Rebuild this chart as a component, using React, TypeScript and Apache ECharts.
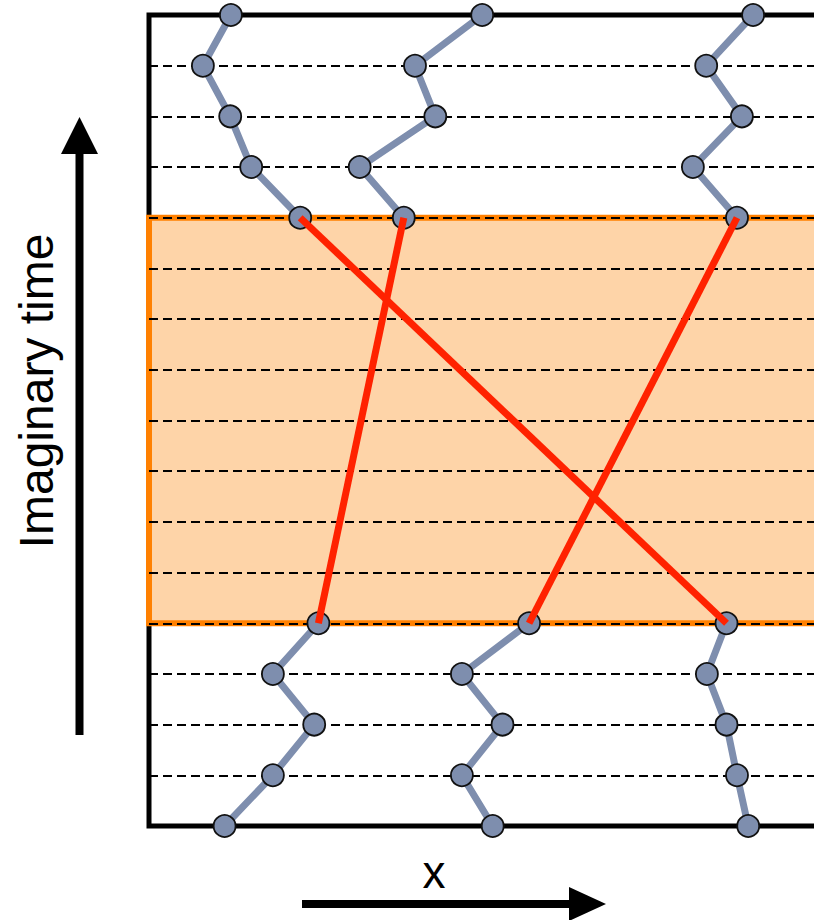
import React, { useEffect, useRef } from "react";
import * as echarts from "echarts";

// Imaginary-time slices (0 = bottom, 16 = top)
const topLevels = [16, 15, 14, 13, 12];
const bottomLevels = [4, 3, 2, 1, 0];
const bandRange = [4, 12];

// Worldline positions above the exchange band (x units 0..100)
const topA = [11.7, 7.7, 11.6, 14.6, 21.6];
const topB = [47.6, 38.0, 40.9, 30.1, 36.4];
const topC = [86.3, 79.6, 84.7, 77.7, 84.0];

// Worldline positions below the exchange band
const bottomL = [24.2, 17.7, 23.6, 17.7, 10.8];
const bottomM = [54.3, 44.7, 50.5, 44.7, 49.1];
const bottomR = [82.5, 79.7, 82.5, 84.0, 85.6];

// Permutation links across the band: [top x, bottom x]
const links = [
  [topA[4], bottomR[0]],
  [topB[4], bottomL[0]],
  [topC[4], bottomM[0]],
];

const BEAD = "#7E8EAE";
const RED = "#FF2200";
const FONT = 'Arial, "Liberation Sans", sans-serif';

function pathSeries(xs: number[], levels: number[]) {
  return {
    type: "line",
    z: 3,
    data: xs.map((x, i) => [x, levels[i]]),
    symbol: "circle",
    symbolSize: 22,
    showSymbol: true,
    showAllSymbol: true,
    itemStyle: { color: BEAD, borderColor: "#111", borderWidth: 1.8 },
    lineStyle: { color: BEAD, width: 7 },
    emphasis: { disabled: true },
    silent: true,
  };
}

export default function App() {
  const ref = useRef<HTMLDivElement>(null);
  useEffect(() => {
    document.body.style.margin = "0";
    const chart = echarts.init(ref.current!, null, { renderer: "svg" });
    const series: any[] = [
      {
        type: "custom",
        z: 1,
        clip: false,
        silent: true,
        data: [bandRange],
        renderItem: (params: any, api: any) => {
          const p1 = api.coord([0, bandRange[1]]);
          const p2 = api.coord([100, bandRange[0]]);
          return {
            type: "rect",
            shape: { x: p1[0], y: p1[1], width: p2[0] - p1[0], height: p2[1] - p1[1] },
            style: { fill: "#FED4A8", stroke: "#FF8000", lineWidth: 6 },
          };
        },
      },
      pathSeries(topA, topLevels),
      pathSeries(topB, topLevels),
      pathSeries(topC, topLevels),
      pathSeries(bottomL, bottomLevels),
      pathSeries(bottomM, bottomLevels),
      pathSeries(bottomR, bottomLevels),
      ...links.map((l) => ({
        type: "line",
        z: 4,
        data: [
          [l[0], bandRange[1]],
          [l[1], bandRange[0]],
        ],
        symbol: "none",
        lineStyle: { color: RED, width: 7 },
        emphasis: { disabled: true },
        silent: true,
      })),
    ];
    chart.setOption({
      animation: false,
      grid: {
        left: 149,
        top: 15,
        width: 700,
        height: 811,
        outerBoundsMode: "none",
        containLabel: false,
        show: true,
        borderColor: "#000",
        borderWidth: 5,
        backgroundColor: "transparent",
        z: 0,
      },
      xAxis: {
        type: "value",
        min: 0,
        max: 100,
        show: false,
      },
      yAxis: {
        type: "value",
        min: 0,
        max: 16,
        interval: 1,
        z: 2,
        axisLine: { show: false },
        axisTick: { show: false },
        axisLabel: { show: false },
        splitLine: { show: true, lineStyle: { color: "#000", width: 2, type: [9, 5] } },
      },
      series,
      graphic: [
        { type: "rect", shape: { x: 302, y: 900, width: 272, height: 8 }, style: { fill: "#000" } },
        { type: "polygon", shape: { points: [[569, 887], [606, 904], [569, 921]] }, style: { fill: "#000" } },
        { type: "rect", shape: { x: 75.5, y: 150, width: 8, height: 585 }, style: { fill: "#000" } },
        { type: "polygon", shape: { points: [[61, 154], [79.5, 117], [98, 154]] }, style: { fill: "#000" } },
        {
          type: "text",
          x: 434,
          y: 872,
          style: { text: "x", font: `46px ${FONT}`, fill: "#000", align: "center", verticalAlign: "middle" },
        },
        {
          type: "text",
          x: 36,
          y: 391,
          rotation: Math.PI / 2,
          style: { text: "Imaginary time", font: `48px ${FONT}`, fill: "#000", align: "center", verticalAlign: "middle" },
        },
      ],
    });
    return () => chart.dispose();
  }, []);
  return <div ref={ref} style={{ width: 814, height: 920 }} />;
}
